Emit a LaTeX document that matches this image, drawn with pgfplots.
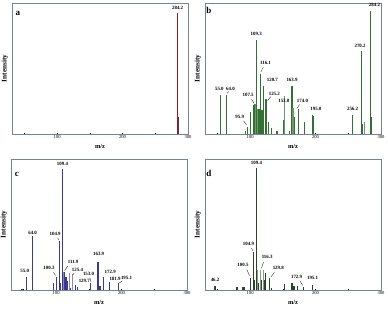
\documentclass[border=0pt]{standalone}
\usepackage{pgfplots}
\pgfplotsset{compat=1.18}
\usepackage{fontspec}
\setmainfont{Liberation Serif}
\definecolor{frame}{RGB}{118,132,142}
\definecolor{cred}{RGB}{150,28,28}
\definecolor{cgreen}{RGB}{52,112,52}
\definecolor{clgreen}{RGB}{110,150,110}
\definecolor{cblue}{RGB}{60,58,140}
\definecolor{cdgreen}{RGB}{40,70,40}
\tikzset{
  lab/.style={font=\bfseries\fontsize{4.9}{4.9}\selectfont, inner sep=0pt},
  plet/.style={font=\bfseries\fontsize{9}{9}\selectfont, inner sep=0pt},
}
\pgfplotsset{
  ms/.style={
    width=176pt, height=131pt, scale only axis,
    anchor=north west,
    xmin=31, xmax=300, ymin=0, ymax=100,
    axis line style={draw=frame, line width=0.9pt},
    xtick={50,100,150,200,250,300},
    xticklabels={,100,,200,,300},
    ytick=\empty,
    major tick length=1.5pt,
    tick style={black, line width=0.5pt},
    xtick pos=bottom,
    /pgf/number format/assume math mode=true,
    xticklabel style={font=\fontsize{4.6}{4.6}\selectfont, inner sep=1pt},
    xlabel={m/z}, ylabel={Intensity},
    xlabel style={at={(axis description cs:0.5,-0.092)}, anchor=center, font=\bfseries\fontsize{6.4}{6.4}\selectfont},
    ylabel style={at={(axis description cs:-0.04,0.5)}, anchor=center, font=\bfseries\fontsize{7.2}{7.2}\selectfont},
    clip=false,
  },
}
\begin{document}
\begin{tikzpicture}
\useasboundingbox (0,0) rectangle (388pt,-309pt);
% ---------- a ----------
\begin{axis}[ms, at={(12pt,-3pt)}]
\addplot[ycomb, cred, line width=1.4pt] coordinates {(284.2,92.6)};
\addplot[ycomb, cblue!70!cred, line width=0.8pt] coordinates {(285.3,13)};
\node[lab] at (axis cs:284.2,96.5) {284.2};
\node[plet] at (axis cs:40,92) {a};
\end{axis}
% ---------- b ----------
\begin{axis}[ms, at={(205pt,-3pt)}]
\addplot[ycomb, cgreen, line width=1.25pt] coordinates {
(55.0,30)(64.0,30)(93,2)(95.9,5.6)(100,16.7)(105.5,22)(107.5,23)(109.3,72)
(111.5,19)(113.5,19)(116.1,45.6)(118,18)(120.7,36.4)(123,27)(125.2,27)
(128,9.5)(133,4.6)(141,2.5)(150.5,11)(153.0,29)(160,2.5)(163.9,36.7)(165.5,20)
(167.5,12.8)(174.0,19)(183,9)(195.0,14.6)(196.2,13.6)(256.2,14.6)(270.2,63.3)
(271.5,7.7)(275,9)(284.2,93.6)(285.5,12.8)};
\addplot[ycomb, clgreen, line width=1.1pt] coordinates {(107.5,23)(111.5,19)(153.0,29)(165.5,20)(275,9)};
\node[lab] at (axis cs:53,34.5) {55.0};
\node[lab] at (axis cs:70,34.5) {64.0};
\draw[black, line width=0.3pt] (axis cs:67,32.5) -- (axis cs:65,31);
\node[lab] at (axis cs:84,12.8) {95.9};
\draw[black, line width=0.3pt] (axis cs:90,10) -- (axis cs:94.5,7);
\node[lab] at (axis cs:97,29.5) {107.5};
\draw[black, line width=0.3pt] (axis cs:102,26.5) -- (axis cs:106,23.5);
\node[lab] at (axis cs:109.3,76.5) {109.3};
\node[lab] at (axis cs:123.5,54) {116.1};
\draw[black, line width=0.3pt] (axis cs:120,51) -- (axis cs:116.5,47.5);
\node[lab] at (axis cs:134,41.5) {120.7};
\node[lab] at (axis cs:137,30.8) {125.2};
\draw[black, line width=0.3pt] (axis cs:131.5,28.5) -- (axis cs:126.5,25.5);
\node[lab] at (axis cs:151.5,24.9) {153.0};
\node[lab] at (axis cs:164,41) {163.9};
\node[lab] at (axis cs:180,24.9) {174.0};
\draw[black, line width=0.3pt] (axis cs:175.5,22.5) -- (axis cs:171.5,19.5);
\node[lab] at (axis cs:200.5,19) {195.0};
\node[lab] at (axis cs:256.6,19) {256.2};
\node[lab] at (axis cs:268,67) {270.2};
\node[lab] at (axis cs:290,98.7) {284.2};
\node[plet] at (axis cs:37,94) {b};
\end{axis}
% ---------- c ----------
\begin{axis}[ms, at={(11pt,-159pt)}]
\addplot[ycomb, cblue, line width=1.25pt] coordinates {
(48,1)(55.0,10.2)(64.0,41)(96,5)(100.3,10)(104.9,37.4)(107,5.6)(109.4,92.4)
(111.9,14)(113.2,2)(115,10)(116.6,7)(120,12.7)(122,1.5)(125.4,12)(129.7,3.8)
(133,2)(153.0,5)(163.9,21.6)(165.3,3.8)(167,3.2)(172.9,9.7)(181.9,6.4)(195.1,5.6)};
\addplot[ycomb, cblue!60, line width=1.1pt] coordinates {(111.9,14)(120,12.7)(125.4,12)};
\node[lab] at (axis cs:52,14.5) {55.0};
\node[lab] at (axis cs:64,43.8) {64.0};
\node[lab] at (axis cs:89,16.5) {100.3};
\draw[black, line width=0.3pt] (axis cs:96,13.5) -- (axis cs:99,11);
\node[lab] at (axis cs:98.5,42.7) {104.9};
\draw[black, line width=0.3pt] (axis cs:102,40) -- (axis cs:104.3,38);
\node[lab] at (axis cs:109.7,96) {109.4};
\node[lab] at (axis cs:126,21.6) {111.9};
\draw[black, line width=0.3pt] (axis cs:118,18.5) -- (axis cs:113,14.8);
\node[lab] at (axis cs:132.6,15.5) {125.4};
\draw[black, line width=0.3pt] (axis cs:127.5,13) -- (axis cs:125.5,11.5);
\node[lab] at (axis cs:143,7) {129.7};
\node[lab] at (axis cs:149.5,12.5) {153.0};
\draw[black, line width=0.3pt] (axis cs:151.5,9.5) -- (axis cs:153.3,6.3);
\node[lab] at (axis cs:165,27.5) {163.9};
\node[lab] at (axis cs:182.6,14) {172.9};
\node[lab] at (axis cs:190,8.4) {181.9};
\node[lab] at (axis cs:207.6,9) {195.1};
\draw[black, line width=0.3pt] (axis cs:201,7) -- (axis cs:196.5,5.3);
\node[plet] at (axis cs:40,88) {c};
\end{axis}
% ---------- d ----------
\begin{axis}[ms, at={(205pt,-159pt)}]
\addplot[ycomb, cdgreen, line width=1.25pt] coordinates {
(46.2,3)(80,2)(89,2)(91,2.5)(100.5,9.4)(104.9,29)(107,7.6)(109.4,93)
(111.5,15)(113,5)(116.3,15)(117.8,7.6)(120,15)(122,7.6)(124,12.7)(129.8,8.9)
(133,1.5)(153,4.3)(163.9,5)(166,3.2)(168,3)(172.9,3)(181.9,2)(195.1,3.8)};
\addplot[ycomb, cdgreen!55, line width=1.1pt] coordinates {(111.5,15)(116.3,15)(120,15)};
\node[lab] at (axis cs:46.4,7.6) {46.2};
\node[lab] at (axis cs:89,19) {100.5};
\draw[black, line width=0.3pt] (axis cs:95,15.5) -- (axis cs:99,11);
\node[lab] at (axis cs:97.5,35) {104.9};
\draw[black, line width=0.3pt] (axis cs:102,32) -- (axis cs:104,30);
\node[lab] at (axis cs:109.7,96.7) {109.4};
\node[lab] at (axis cs:126,25.4) {116.3};
\draw[black, line width=0.3pt] (axis cs:120.5,21.5) -- (axis cs:117.3,16.5);
\node[lab] at (axis cs:143,16.5) {129.8};
\draw[black, line width=0.3pt] (axis cs:137,13.5) -- (axis cs:132,10);
\node[lab] at (axis cs:171,10) {172.9};
\draw[black, line width=0.3pt] (axis cs:176,7) -- (axis cs:180.5,3.5);
\node[lab] at (axis cs:195.4,9) {195.1};
\node[plet] at (axis cs:37,89) {d};
\end{axis}
\end{tikzpicture}
\end{document}
